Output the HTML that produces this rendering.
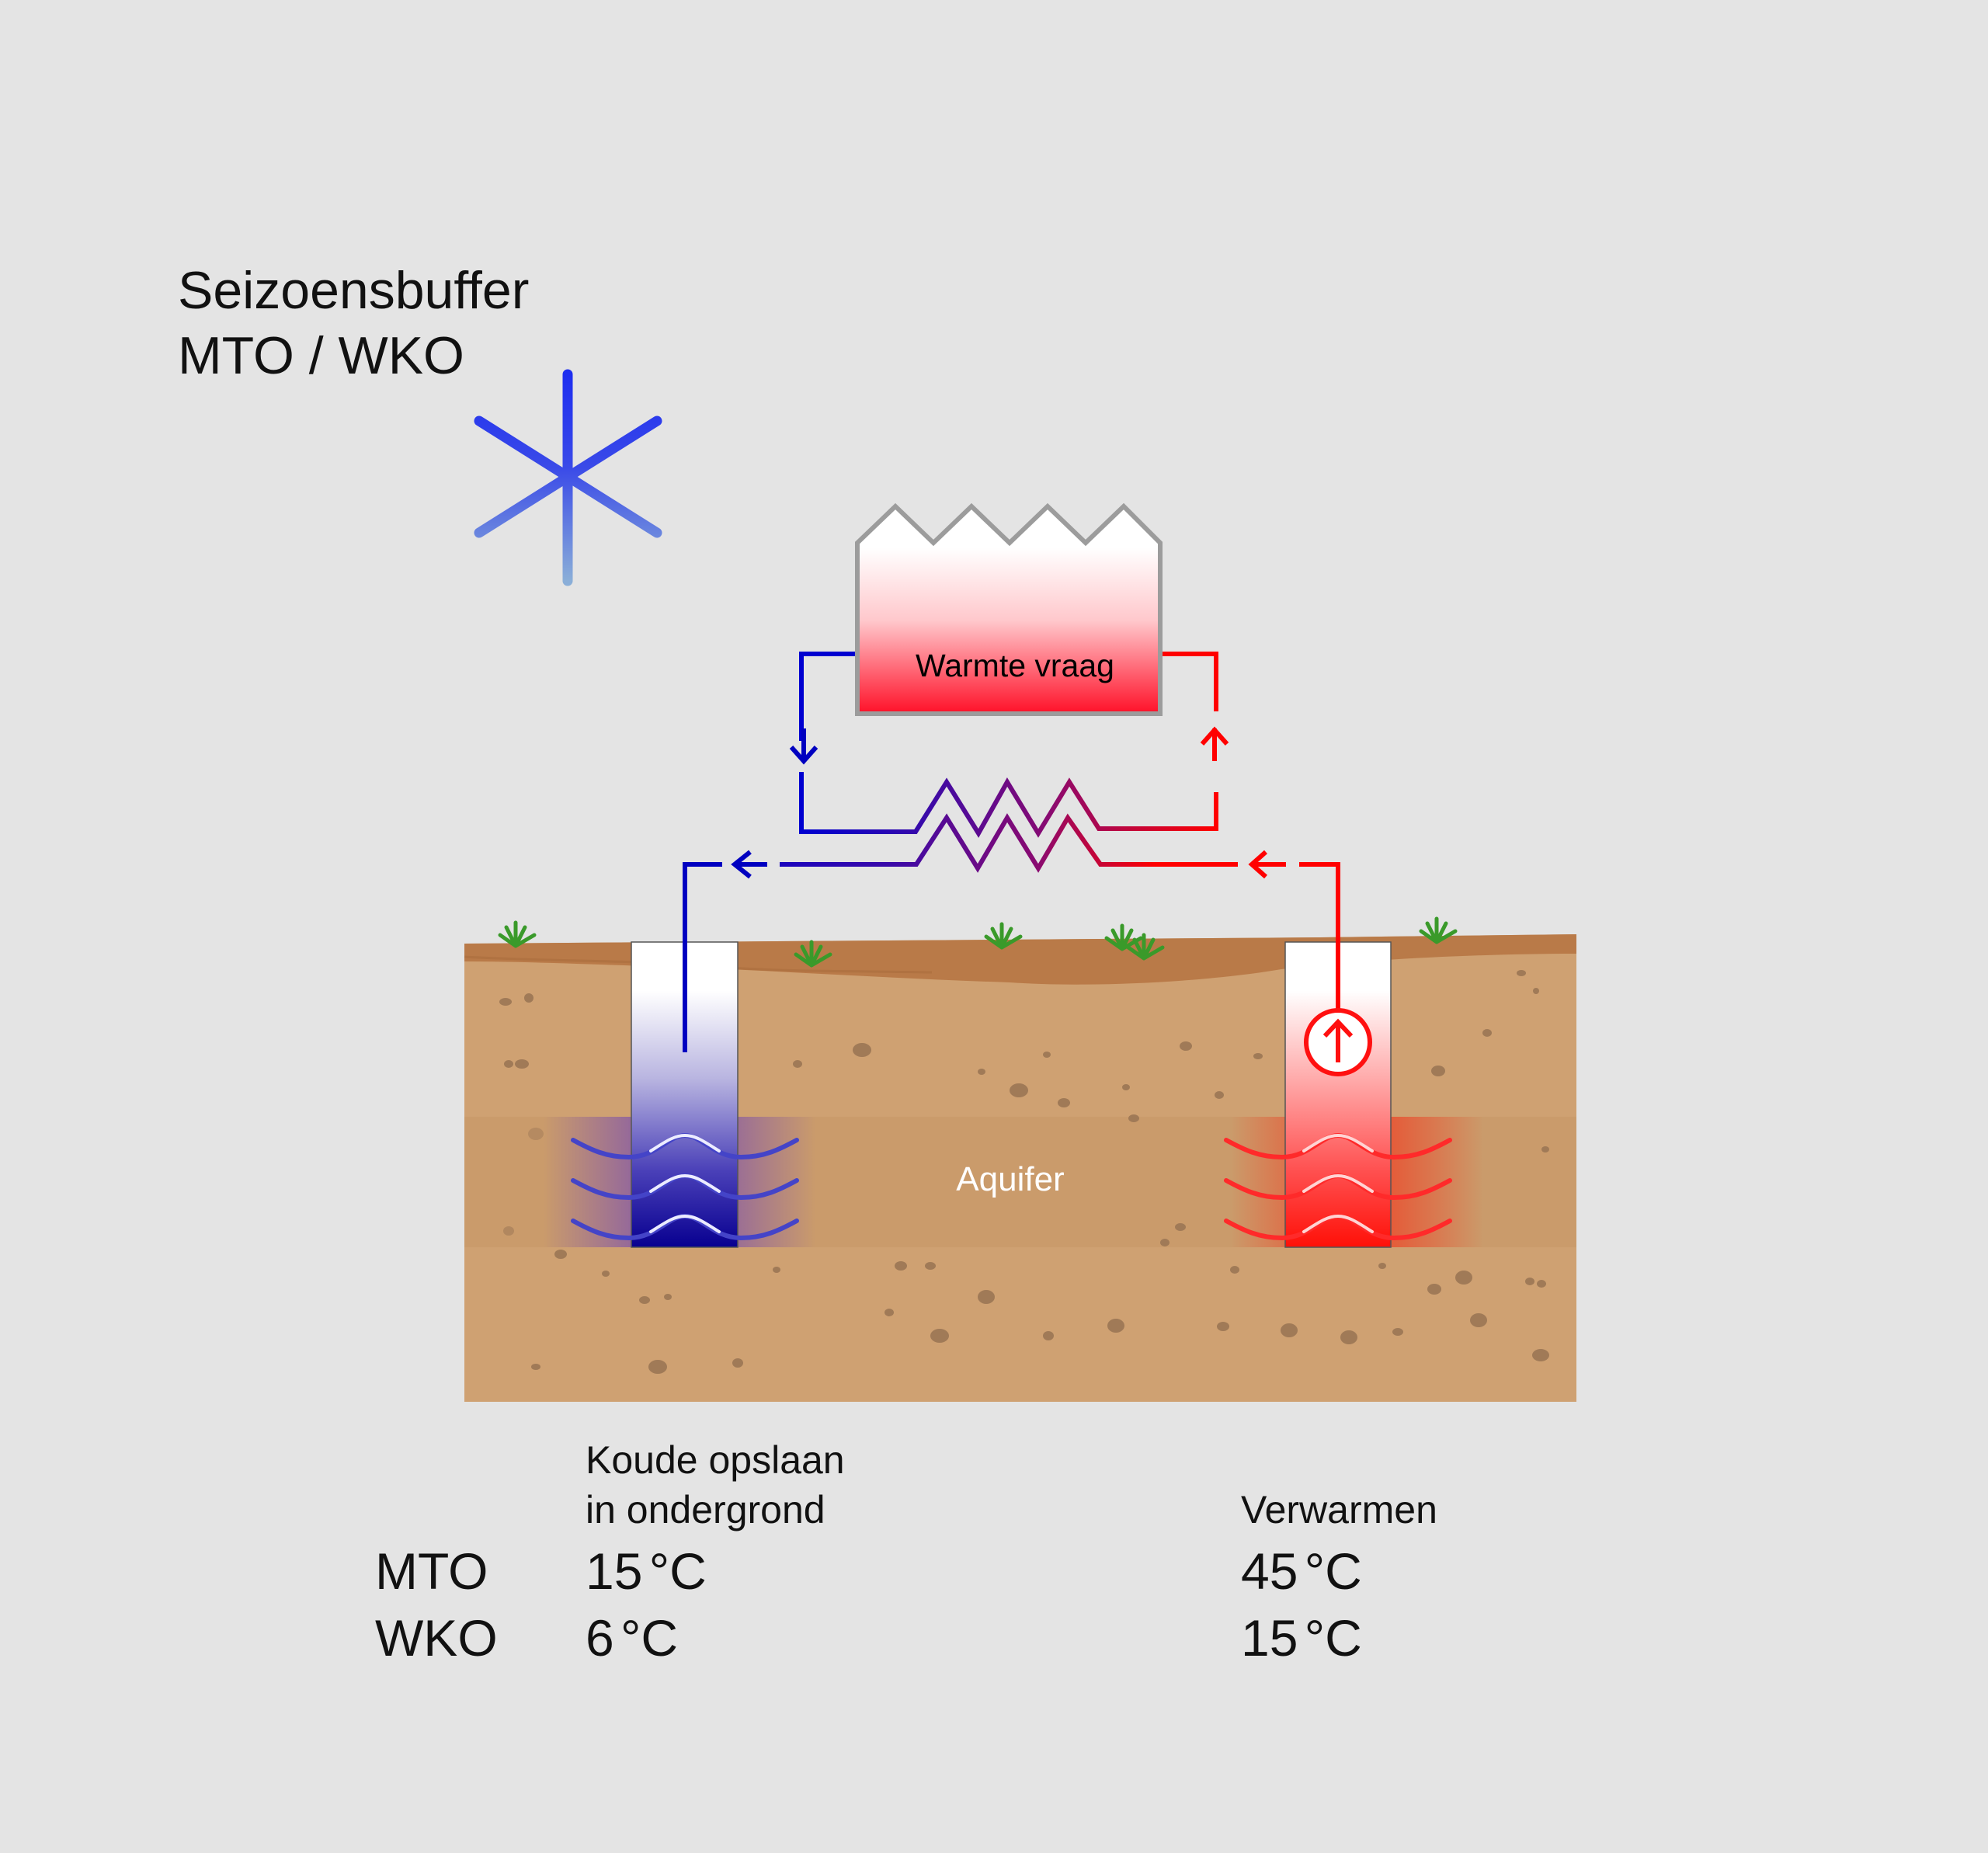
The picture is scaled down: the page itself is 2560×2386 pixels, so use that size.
<!DOCTYPE html>
<html><head><meta charset="utf-8"><style>
html,body{margin:0;padding:0;background:#e4e4e4;}
svg{display:block;}
text{font-family:"Liberation Sans",sans-serif;}
</style></head><body>
<svg width="2560" height="2386" viewBox="0 0 2560 2386" xmlns="http://www.w3.org/2000/svg">
<defs>
<linearGradient id="bld" x1="0" y1="0" x2="0" y2="1">
<stop offset="0" stop-color="#fff"/><stop offset="0.2" stop-color="#fff"/><stop offset="0.55" stop-color="#ffc8cc"/><stop offset="1" stop-color="#ff1028"/></linearGradient>
<linearGradient id="pipe" gradientUnits="userSpaceOnUse" x1="1032" y1="0" x2="1566" y2="0">
<stop offset="0" stop-color="#0000d0"/><stop offset="0.3" stop-color="#3a0aa8"/><stop offset="0.6" stop-color="#8a0a70"/><stop offset="1" stop-color="#ff0000"/></linearGradient>
<linearGradient id="pipe2" gradientUnits="userSpaceOnUse" x1="882" y1="0" x2="1640" y2="0">
<stop offset="0" stop-color="#0000d0"/><stop offset="0.35" stop-color="#3a0aa8"/><stop offset="0.6" stop-color="#8a0a70"/><stop offset="0.8" stop-color="#ff0000"/><stop offset="1" stop-color="#ff0000"/></linearGradient>
<linearGradient id="wb" x1="0" y1="0" x2="0" y2="1">
<stop offset="0" stop-color="#fff"/><stop offset="0.16" stop-color="#fff"/><stop offset="0.45" stop-color="#b8b4e0"/><stop offset="0.75" stop-color="#4a40b8"/><stop offset="1" stop-color="#080090"/></linearGradient>
<linearGradient id="wr" x1="0" y1="0" x2="0" y2="1">
<stop offset="0" stop-color="#fff"/><stop offset="0.16" stop-color="#fff"/><stop offset="0.45" stop-color="#ffaaaa"/><stop offset="0.75" stop-color="#ff5050"/><stop offset="1" stop-color="#ff1008"/></linearGradient>
<linearGradient id="gb" x1="0" y1="0" x2="1" y2="0">
<stop offset="0" stop-color="#6a40c0" stop-opacity="0"/><stop offset="0.5" stop-color="#6a40c0" stop-opacity="0.85"/><stop offset="1" stop-color="#6a40c0" stop-opacity="0"/></linearGradient>
<linearGradient id="gr" x1="0" y1="0" x2="1" y2="0">
<stop offset="0" stop-color="#ff2a10" stop-opacity="0"/><stop offset="0.5" stop-color="#f03a20" stop-opacity="0.85"/><stop offset="1" stop-color="#ff2a10" stop-opacity="0"/></linearGradient>
<linearGradient id="snow" gradientUnits="userSpaceOnUse" x1="0" y1="482" x2="0" y2="748">
<stop offset="0" stop-color="#1e2ef0"/><stop offset="0.45" stop-color="#3a4ae8"/><stop offset="1" stop-color="#8aaed8"/></linearGradient>
<path id="wv" d="M-144,-14 C-122,-2 -102,8 -72,8 C-37,8 -22,-20 0,-20 C22,-20 37,8 72,8 C102,8 122,-2 144,-14" fill="none"/>
<path id="wh" d="M-44,0 C-25,-12 -14,-20 0,-20 C14,-20 25,-12 44,0" fill="none"/>
</defs>

<text x="229" y="397" font-size="68" fill="#111">Seizoensbuffer</text>
<text x="229" y="481" font-size="68" fill="#111">MTO / WKO</text>

<g stroke="url(#snow)" stroke-width="13" stroke-linecap="round">
<line x1="731" y1="482" x2="731" y2="748"/>
<line x1="617" y1="542" x2="846" y2="686"/>
<line x1="846" y1="542" x2="617" y2="686"/>
</g>

<path d="M1104,699 L1153,652 L1202,699 L1251,652 L1300,699 L1349,652 L1398,699 L1447,652 L1494,699 L1494,919 L1104,919 Z" fill="url(#bld)" stroke="#9c9c9c" stroke-width="6"/>
<text x="1307" y="871" font-size="41" text-anchor="middle" fill="#000">Warmte vraag</text>

<g fill="none" stroke-width="6">
<polyline points="1101,842 1032,842 1032,954" stroke="#0000d0"/>
<line x1="1035" y1="938" x2="1035" y2="978" stroke="#0000c0"/>
<polyline points="1019,962 1035,980 1051,962" stroke="#0000c0"/>
<polyline points="1032,994 1032,1071 1179,1071 1219,1007 1260,1073 1297,1007 1337,1073 1377,1007 1415,1067 1566,1067 1566,1020" stroke="url(#pipe)"/>
<line x1="1564" y1="938" x2="1564" y2="980" stroke="#ff0000"/>
<polyline points="1548,958 1564,940 1580,958" stroke="#ff0000"/>
<polyline points="1497,842 1566,842 1566,916" stroke="#ff0000"/>
</g>

<path d="M598,1215 L1000,1212 L1700,1207 L2030,1203 L2030,1805 L598,1805 Z" fill="#cfa172"/>
<path d="M598,1215 L1000,1212 L1700,1207 L2030,1203 L2030,1228 C1900,1228 1750,1236 1650,1248 C1550,1265 1400,1272 1300,1265 C1150,1260 1000,1250 870,1245 C760,1242 680,1238 598,1238 Z" fill="#b97a48"/>
<path d="M598,1232 C700,1238 800,1236 900,1243 C1000,1252 1100,1250 1200,1252" fill="none" stroke="#a86a3a" stroke-width="3" opacity="0.5"/>
<rect x="598" y="1438" width="1432" height="168" fill="#c99a6a" opacity="0.9"/>

<g fill="#a07a57">
<ellipse cx="651" cy="1290" rx="8" ry="5"/><ellipse cx="681" cy="1285" rx="6" ry="6"/><ellipse cx="672" cy="1370" rx="9" ry="6"/><ellipse cx="690" cy="1460" rx="10" ry="8" opacity="0.5"/>
<ellipse cx="655" cy="1585" rx="7" ry="6" opacity="0.6"/><ellipse cx="722" cy="1615" rx="8" ry="6"/><ellipse cx="690" cy="1760" rx="6" ry="4"/><ellipse cx="847" cy="1760" rx="12" ry="9"/>
<ellipse cx="830" cy="1674" rx="7" ry="5"/><ellipse cx="860" cy="1670" rx="5" ry="4"/><ellipse cx="1110" cy="1352" rx="12" ry="9"/><ellipse cx="1027" cy="1370" rx="6" ry="5"/>
<ellipse cx="1312" cy="1404" rx="12" ry="9"/><ellipse cx="1370" cy="1420" rx="8" ry="6"/><ellipse cx="1264" cy="1380" rx="5" ry="4"/><ellipse cx="1348" cy="1358" rx="5" ry="4"/>
<ellipse cx="1527" cy="1347" rx="8" ry="6"/><ellipse cx="1460" cy="1440" rx="7" ry="5"/><ellipse cx="1450" cy="1400" rx="5" ry="4"/><ellipse cx="1620" cy="1360" rx="6" ry="4"/>
<ellipse cx="1160" cy="1630" rx="8" ry="6"/><ellipse cx="1198" cy="1630" rx="7" ry="5"/><ellipse cx="1270" cy="1670" rx="11" ry="9"/><ellipse cx="1210" cy="1720" rx="12" ry="9"/>
<ellipse cx="1350" cy="1720" rx="7" ry="6"/><ellipse cx="1437" cy="1707" rx="11" ry="9"/><ellipse cx="1575" cy="1708" rx="8" ry="6"/><ellipse cx="1660" cy="1713" rx="11" ry="9"/>
<ellipse cx="1737" cy="1722" rx="11" ry="9"/><ellipse cx="1800" cy="1715" rx="7" ry="5"/><ellipse cx="1847" cy="1660" rx="9" ry="7"/><ellipse cx="1885" cy="1645" rx="11" ry="9"/>
<ellipse cx="1904" cy="1700" rx="11" ry="9"/><ellipse cx="1984" cy="1745" rx="11" ry="8"/><ellipse cx="1970" cy="1650" rx="6" ry="5"/><ellipse cx="1985" cy="1653" rx="6" ry="5"/>
<ellipse cx="1959" cy="1253" rx="6" ry="4"/><ellipse cx="1978" cy="1276" rx="4" ry="4"/><ellipse cx="1852" cy="1379" rx="9" ry="7"/><ellipse cx="1915" cy="1330" rx="6" ry="5"/>
<ellipse cx="1570" cy="1410" rx="6" ry="5"/><ellipse cx="1520" cy="1580" rx="7" ry="5"/><ellipse cx="1690" cy="1570" rx="5" ry="4"/><ellipse cx="1990" cy="1480" rx="5" ry="4"/>
<ellipse cx="950" cy="1755" rx="7" ry="6"/><ellipse cx="1000" cy="1635" rx="5" ry="4"/><ellipse cx="780" cy="1640" rx="5" ry="4"/><ellipse cx="1500" cy="1600" rx="6" ry="5"/>
<ellipse cx="1145" cy="1690" rx="6" ry="5"/><ellipse cx="655" cy="1370" rx="6" ry="5"/><ellipse cx="1780" cy="1630" rx="5" ry="4"/><ellipse cx="1590" cy="1635" rx="6" ry="5"/>
</g>

<rect x="700" y="1438" width="350" height="168" fill="url(#gb)"/>
<rect x="1585" y="1438" width="325" height="168" fill="url(#gr)"/>

<rect x="813" y="1213" width="137" height="393" fill="url(#wb)" stroke="#555" stroke-width="1.5"/>
<rect x="1655" y="1213" width="136" height="393" fill="url(#wr)" stroke="#555" stroke-width="1.5"/>

<g stroke-linecap="round">
<g stroke="#4444c8" stroke-width="6">
<use href="#wv" x="882" y="1482"/><use href="#wv" x="882" y="1534"/><use href="#wv" x="882" y="1586"/>
</g>
<g stroke="#ececff" stroke-width="4">
<use href="#wh" x="882" y="1482"/><use href="#wh" x="882" y="1534"/><use href="#wh" x="882" y="1586"/>
</g>
<g stroke="#ff2a2a" stroke-width="6">
<use href="#wv" x="1723" y="1482"/><use href="#wv" x="1723" y="1534"/><use href="#wv" x="1723" y="1586"/>
</g>
<g stroke="#ffd4d4" stroke-width="4">
<use href="#wh" x="1723" y="1482"/><use href="#wh" x="1723" y="1534"/><use href="#wh" x="1723" y="1586"/>
</g>
</g>

<text x="1301" y="1533" font-size="44" text-anchor="middle" fill="#fff">Aquifer</text>

<g fill="none" stroke-width="6">
<polyline points="882,1355 882,1113 930,1113" stroke="#0000c0"/>
<polyline points="966,1097 946,1113 966,1129" stroke="#0000c0"/>
<line x1="948" y1="1113" x2="988" y2="1113" stroke="#0000c0"/>
<polyline points="1004,1113 1180,1113 1219,1053 1259,1118 1297,1053 1337,1118 1375,1053 1417,1113 1594,1113" stroke="url(#pipe2)"/>
<polyline points="1630,1097 1612,1113 1630,1129" stroke="#ff0000"/>
<line x1="1614" y1="1113" x2="1656" y2="1113" stroke="#ff0000"/>
<polyline points="1673,1113 1723,1113 1723,1300" stroke="#ff0000"/>
<circle cx="1723" cy="1342" r="41" fill="#fff" stroke="#ff1010" stroke-width="6"/>
<line x1="1723" y1="1368" x2="1723" y2="1318" stroke="#ff1010"/>
<polyline points="1706,1334 1723,1316 1740,1334" stroke="#ff1010"/>
</g>

<g fill="none" stroke="#3a9a2a" stroke-width="5" stroke-linecap="round">
<g transform="translate(664,1218)"><path d="M0,0 L-20,-14 M0,0 L-12,-24 M0,0 L0,-30 M0,0 L12,-24 M0,0 L24,-14"/></g>
<g transform="translate(1045,1243)"><path d="M0,0 L-20,-14 M0,0 L-12,-24 M0,0 L0,-30 M0,0 L12,-24 M0,0 L24,-14"/></g>
<g transform="translate(1290,1220)"><path d="M0,0 L-20,-14 M0,0 L-12,-24 M0,0 L0,-30 M0,0 L12,-24 M0,0 L24,-14"/></g>
<g transform="translate(1445,1222)"><path d="M0,0 L-20,-14 M0,0 L-12,-24 M0,0 L0,-30 M0,0 L12,-24 M0,0 L24,-14"/></g>
<g transform="translate(1473,1234)"><path d="M0,0 L-20,-14 M0,0 L-12,-24 M0,0 L0,-30 M0,0 L12,-24 M0,0 L24,-14"/></g>
<g transform="translate(1850,1213)"><path d="M0,0 L-20,-14 M0,0 L-12,-24 M0,0 L0,-30 M0,0 L12,-24 M0,0 L24,-14"/></g>
</g>

<g fill="#111">
<text x="754" y="1897" font-size="50">Koude opslaan</text>
<text x="754" y="1961" font-size="50">in ondergrond</text>
<text x="1598" y="1961" font-size="50">Verwarmen</text>
<text x="483" y="2046" font-size="66">MTO</text>
<text x="483" y="2132" font-size="66">WKO</text>
<text x="754" y="2046" font-size="66" word-spacing="-10">15 °C</text>
<text x="754" y="2132" font-size="66" word-spacing="-10">6 °C</text>
<text x="1598" y="2046" font-size="66" word-spacing="-10">45 °C</text>
<text x="1598" y="2132" font-size="66" word-spacing="-10">15 °C</text>
</g>
</svg>
</body></html>
